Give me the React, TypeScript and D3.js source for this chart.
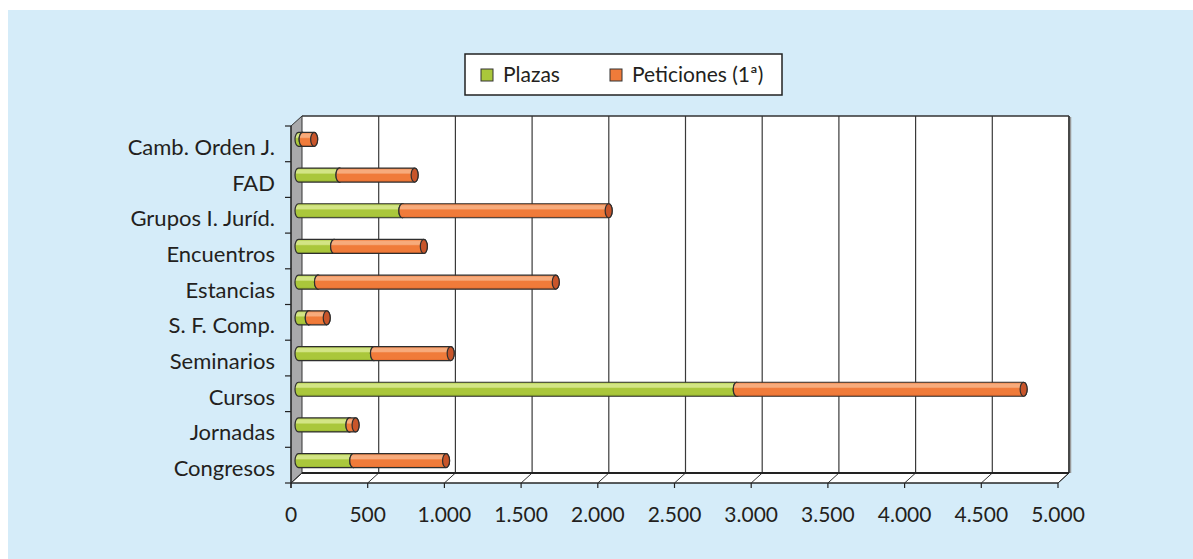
import React from 'react';
import * as d3 from 'd3';

const categories = ['Congresos', 'Jornadas', 'Cursos', 'Seminarios', 'S. F. Comp.', 'Estancias', 'Encuentros', 'Grupos I. Juríd.', 'FAD', 'Camb. Orden J.'];
const plazas = [357, 332, 2857, 492, 67, 127, 232, 677, 267, 27];
const peticiones = [605, 40, 1870, 500, 117, 1550, 585, 1345, 490, 75];
const tickValues = [0, 500, 1000, 1500, 2000, 2500, 3000, 3500, 4000, 4500, 5000];
const seriesNames = ['Plazas', 'Peticiones (1ª)'];

const FONT = 'Lato, "Open Sans", sans-serif';
const W = 1193, H = 559;
const left = 291, right = 1058, top = 126, bottom = 483;
const dx = 11, dy = -10;
const barDx = 7.5, barDy = -4.5;
const barH = 14, capRx = 3.5;

const colors = {
  green: { hi: '#d3e585', main: '#aac73b', dark: '#8aa82a', end: '#8fae2f' },
  orange: { hi: '#f7ab7c', main: '#f07b3a', dark: '#e0662a', end: '#c8552a' },
};

const locale = d3.formatLocale({ decimal: ',', thousands: '.', grouping: [3], currency: ['', '€'] });
const fmt = locale.format(',d');

function cylPath(x0: number, x1: number, cy: number) {
  const ry = barH / 2;
  return `M${x0},${cy - ry} L${x1},${cy - ry} A${capRx},${ry} 0 0 1 ${x1},${cy + ry} L${x0},${cy + ry} A${capRx},${ry} 0 0 1 ${x0},${cy - ry} Z`;
}

export default function App() {
  React.useEffect(() => {
    document.body.style.margin = '0';
  }, []);
  const x = d3.scaleLinear().domain([0, 5000]).range([left, right]);
  const y = d3.scaleBand<string>().domain([...categories].reverse()).range([top, bottom]);
  const bw = y.bandwidth();

  const series = [
    { name: seriesNames[0], values: plazas, c: colors.green, id: 'g' },
    { name: seriesNames[1], values: peticiones, c: colors.orange, id: 'o' },
  ];

  return (
    <svg width={W} height={H} style={{ position: 'absolute', left: 0, top: 0, display: 'block' }} fontFamily={FONT}>
      <defs>
        {series.map((s) => (
          <linearGradient key={s.id} id={`grad-${s.id}`} x1="0" y1="0" x2="0" y2="1">
            <stop offset="0" stopColor={s.c.main} />
            <stop offset="0.15" stopColor={s.c.hi} />
            <stop offset="0.35" stopColor={s.c.hi} />
            <stop offset="0.45" stopColor={s.c.main} />
            <stop offset="0.85" stopColor={s.c.main} />
            <stop offset="1" stopColor={s.c.dark} />
          </linearGradient>
        ))}
      </defs>
      <rect x={8} y={10} width={W - 8} height={H - 10} fill="#d5ecf9" />

      {/* back wall */}
      <rect x={left + dx} y={top + dy} width={right - left} height={bottom - top} fill="#ffffff" />
      {/* side wall */}
      <polygon points={`${left},${top} ${left + dx},${top + dy} ${left + dx},${bottom + dy} ${left},${bottom}`} fill="#a9a9ab" stroke="#333" strokeWidth={1} />
      {/* floor */}
      <polygon points={`${left},${bottom} ${left + dx},${bottom + dy} ${right + dx},${bottom + dy} ${right},${bottom}`} fill="#ffffff" stroke="#333" strokeWidth={1} />

      {/* gridlines on back wall */}
      {tickValues.map((t) => (
        <g key={t}>
          {t > 0 && (
            <line x1={x(t) + dx} x2={x(t) + dx} y1={top + dy} y2={bottom + dy} stroke="#3a3a3a" strokeWidth={1.2} />
          )}
          <line x1={x(t)} y1={bottom} x2={x(t) + dx} y2={bottom + dy} stroke="#333" strokeWidth={1} />
        </g>
      ))}
      {/* back wall border */}
      <line x1={left + dx} x2={right + dx} y1={top + dy} y2={top + dy} stroke="#333" strokeWidth={1.5} />
      <line x1={right + dx + 1.5} x2={right + dx + 1.5} y1={top + dy + 1} y2={bottom + dy} stroke="#999" strokeWidth={1.5} />
      <line x1={right + dx} x2={right + dx} y1={top + dy} y2={bottom + dy} stroke="#333" strokeWidth={1.5} />
      <line x1={left + dx} x2={right + dx} y1={bottom + dy} y2={bottom + dy} stroke="#222" strokeWidth={2} />

      {/* bars */}
      {categories.map((cat, i) => {
        const cy = (y(cat) as number) + bw / 2 + barDy;
        let acc = 0;
        return (
          <g key={cat}>
            {series.map((s) => {
              const v0 = acc;
              const v1 = acc + s.values[i];
              acc = v1;
              const x0 = x(v0) + barDx;
              const x1 = x(v1) + barDx;
              return (
                <g key={s.id}>
                  <path d={cylPath(x0, x1, cy)} fill={`url(#grad-${s.id})`} stroke="#2e2e2e" strokeWidth={1.2} />
                  <ellipse cx={x1} cy={cy} rx={capRx} ry={barH / 2} fill={s.c.end} stroke="#2e2e2e" strokeWidth={1.2} />
                </g>
              );
            })}
          </g>
        );
      })}

      {/* axes */}
      <line x1={left} x2={right} y1={bottom} y2={bottom} stroke="#222" strokeWidth={1.2} />
      <line x1={left} x2={left} y1={top} y2={bottom + 5} stroke="#222" strokeWidth={1.2} />
      {tickValues.map((t) => (
        <g key={`t${t}`}>
          <line x1={x(t)} x2={x(t)} y1={bottom} y2={bottom + 5} stroke="#222" strokeWidth={1.2} />
          <text x={x(t)} y={bottom + 39} textAnchor="middle" fontSize={21} fill="#231f20">{fmt(t)}</text>
        </g>
      ))}
      {[...categories.map((c) => y(c) as number), bottom].map((yy, i) => (
        <line key={`lt${i}`} x1={left - 6} x2={left} y1={yy} y2={yy} stroke="#222" strokeWidth={1.2} />
      ))}
      {categories.map((cat) => (
        <text key={`l${cat}`} x={275} y={(y(cat) as number) + bw / 2 + 11} textAnchor="end" fontSize={22} fill="#231f20">{cat}</text>
      ))}

      {/* legend */}
      <rect x={465} y={54} width={317} height={41} fill="#ffffff" stroke="#222" strokeWidth={1.5} />
      <rect x={481} y={69} width={12} height={12} fill={colors.green.main} stroke="#333" strokeWidth={1} />
      <text x={503} y={82} fontSize={21} fill="#231f20">{seriesNames[0]}</text>
      <rect x={610} y={69} width={12} height={12} fill={colors.orange.main} stroke="#333" strokeWidth={1} />
      <text x={632} y={82} fontSize={21} fill="#231f20">{seriesNames[1]}</text>
    </svg>
  );
}
